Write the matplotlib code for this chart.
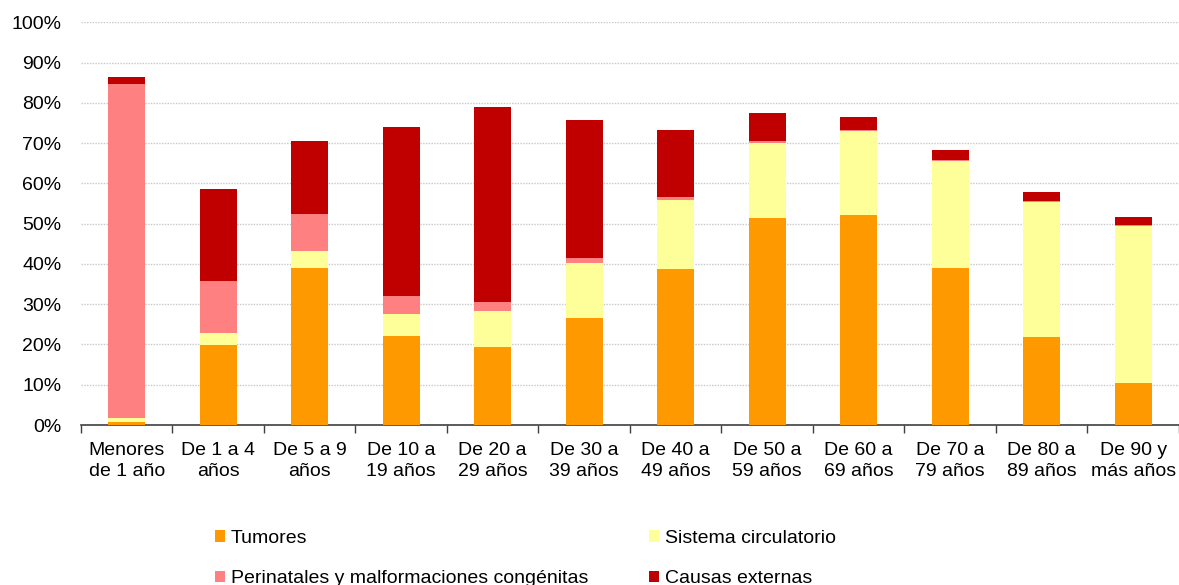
import matplotlib
matplotlib.use("Agg")
import matplotlib.pyplot as plt
import numpy as np

categories = ["Menores\nde 1 año", "De 1 a 4\naños", "De 5 a 9\naños", "De 10 a\n19 años",
              "De 20 a\n29 años", "De 30 a\n39 años", "De 40 a\n49 años", "De 50 a\n59 años",
              "De 60 a\n69 años", "De 70 a\n79 años", "De 80 a\n89 años", "De 90 y\nmás años"]

tumores = [0.8, 19.9, 39.0, 22.1, 19.4, 26.6, 38.7, 51.4, 52.1, 39.1, 21.8, 10.4]
circulatorio = [0.9, 2.9, 4.3, 5.5, 8.8, 13.6, 17.2, 18.7, 20.9, 26.5, 33.6, 39.1]
perinatales = [82.9, 12.9, 9.2, 4.4, 2.3, 1.2, 0.7, 0.4, 0.2, 0.2, 0.1, 0.1]
externas = [1.7, 22.9, 18.0, 42.1, 48.5, 34.3, 16.6, 6.9, 3.4, 2.6, 2.3, 2.0]

series_names = ["Tumores", "Sistema circulatorio",
                "Perinatales y malformaciones congénitas", "Causas externas"]
colors = ["#FF9900", "#FFFF99", "#FF8080", "#C00000"]

plt.rcParams['font.family'] = ['Liberation Sans', 'DejaVu Sans']

fig = plt.figure(figsize=(11.79, 5.85), dpi=100)
ax = fig.add_axes([0.0687, 0.2735, 0.9313, 0.6884])

x = np.arange(len(categories))
data = [tumores, circulatorio, perinatales, externas]
bottom = np.zeros(len(categories))
handles = []
for vals, name, col in zip(data, series_names, colors):
    v = np.array(vals) / 100.0
    h = ax.bar(x, v, width=0.4, bottom=bottom, color=col, label=name, zorder=3)
    handles.append(h)
    bottom += v

ax.set_xlim(-0.5, len(categories) - 0.5)
ax.set_ylim(0, 1.0)
ax.set_yticks(np.arange(0, 1.01, 0.1))
ax.set_yticklabels([f"{int(round(t*100))}%" for t in np.arange(0, 1.01, 0.1)], fontsize=14)
ax.tick_params(axis='y', length=0, pad=14)
ax.yaxis.grid(True, linestyle=(0, (1, 1)), color="#C8C8C8", linewidth=1.0, zorder=0)
ax.set_axisbelow(True)

ax.set_xticks(x)
ax.set_xticklabels(categories, fontsize=14, linespacing=1.3)
ax.tick_params(axis='x', length=0, pad=12)
ax.set_xticks(np.arange(-0.5, len(categories), 1.0), minor=True)
ax.tick_params(axis='x', which='minor', length=6, width=1, color="#404040", direction='out')

for s in ["top", "right", "left"]:
    ax.spines[s].set_visible(False)
ax.spines["bottom"].set_color("#404040")
ax.spines["bottom"].set_linewidth(1.2)

leg_order = [0, 2, 1, 3]
fig.legend([handles[i] for i in leg_order], [series_names[i] for i in leg_order],
           ncol=2, loc="upper left", bbox_to_anchor=(0.182, 0.094), frameon=False,
           fontsize=14, handlelength=0.55, handleheight=0.55, handletextpad=0.3,
           columnspacing=3.1, labelspacing=1.2, borderaxespad=0, borderpad=0)

fig.savefig("out.png", dpi=100)
